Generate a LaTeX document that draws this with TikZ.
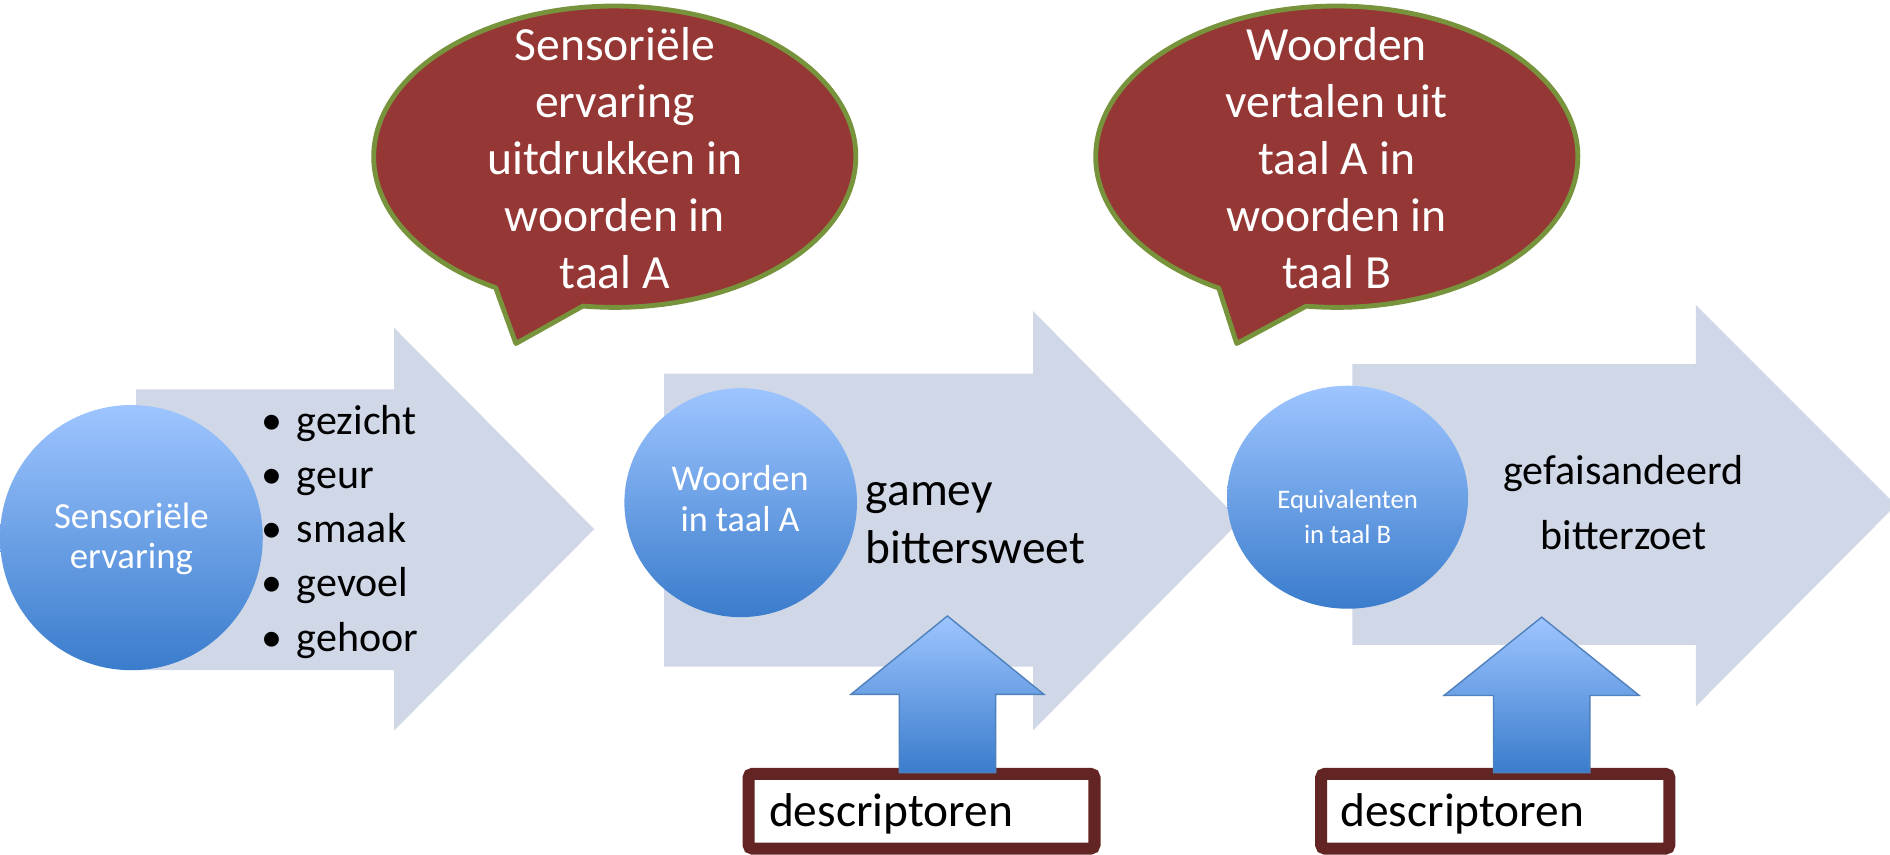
\documentclass[tikz,border=0pt]{standalone}
\usepackage{fontspec}
\setmainfont{Carlito}
\usetikzlibrary{shapes.geometric}
\definecolor{arrowbg}{RGB}{208,216,232}
\definecolor{circtop}{RGB}{158,197,255}
\definecolor{circbot}{RGB}{58,124,204}
\definecolor{bubfill}{RGB}{149,55,53}
\definecolor{bubline}{RGB}{119,147,60}
\definecolor{boxline}{RGB}{99,37,35}
\definecolor{upline}{RGB}{79,129,189}
\newcommand\bul{\makebox[25.2pt][c]{\textbullet}}
\begin{document}
\begin{tikzpicture}[x=0.6pt,y=-0.6pt,
  bigarrow/.style={fill=arrowbg},
  circ/.style={ellipse, inner sep=0pt, top color=circtop, bottom color=circbot, draw=none},
  circtext/.style={text=white, align=center, inner sep=0pt},
  bubble/.style={fill=bubfill, draw=bubline, line width=2.4pt, line join=round},
  bubtext/.style={text=white, align=center, inner sep=0pt, font=\fontsize{23.7}{28.4}\selectfont},
  uparrow/.style={top color=circtop, bottom color=circbot, draw=upline, line width=0.7pt},
  descbox/.style={draw=boxline, line width=6pt, rounded corners=2pt, fill=white, minimum height=37.2pt, align=left, inner ysep=0pt, font=\fontsize{23.6}{28}\selectfont},
  words/.style={inner sep=0pt}
]
\useasboundingbox (0,0) rectangle (1568,709);
\fill[white] (0,0) rectangle (1568,709);

% big background arrows
\path[bigarrow] (113,323) -- (327,323) -- (327,272) -- (493,439) -- (327,606) -- (327,556) -- (113,556) -- cycle;
\path[bigarrow] (551,310) -- (857,310) -- (857,258) -- (1029,432) -- (857,606) -- (857,553) -- (551,553) -- cycle;
\path[bigarrow] (1122,302) -- (1407,302) -- (1407,253) -- (1573,419) -- (1407,586) -- (1407,535) -- (1122,535) -- cycle;

% circles
\node[circ, minimum width=130.8pt, minimum height=132pt] (c1) at (109,446) {};
\node[circ, minimum width=115.8pt, minimum height=114pt] (c2) at (614.5,417) {};
\node[circ, minimum width=120pt, minimum height=111pt] (c3) at (1118,412.5) {};

\node[circtext, font=\fontsize{18.3}{19.8}\selectfont] (t1) at (109,447) {Sensoriële\\ervaring};
\node[circtext, font=\fontsize{18}{20.4}\selectfont] (t2) at (614,414) {Woorden\\in taal A};
\node[circtext, font=\fontsize{13.3}{17.4}\selectfont] (t3) at (1118,429) {Equivalenten\\in taal B};

% texts on arrows
\node[words, anchor=west, align=left, font=\fontsize{20.9}{27}\selectfont] (senses) at (204,441)
  {\bul gezicht\\\bul geur\\\bul smaak\\\bul gevoel\\\bul gehoor};
\node[words, anchor=west, align=left, font=\fontsize{23.6}{28.8}\selectfont] (wa) at (718,434) {gamey\\bittersweet};
\node[words, align=center, font=\fontsize{20.9}{32.4}\selectfont] (wb) at (1347,417) {gefaisandeerd\\bitterzoet};

% speech bubbles
\path[bubble] ([shift={(510,130)}]97.6:200 and 125) arc[start angle=97.6, end angle=-240.4, x radius=200, y radius=125] -- (428,285) -- cycle;
\node[bubtext] (b1) at (510,131) {Sensoriële\\ervaring\\uitdrukken in\\woorden in\\taal A};
\path[bubble] ([shift={(1109,130)}]97.3:200 and 125) arc[start angle=97.3, end angle=-240.7, x radius=200, y radius=125] -- (1026,285) -- cycle;
\node[bubtext] (b2) at (1109,131) {Woorden\\vertalen uit\\taal A in\\woorden in\\taal B};

% descriptor boxes
\node[descbox, text width=151.8pt, inner xsep=10.2pt] (d1) at (764.5,673) {\raisebox{-7.8pt}[0pt][0pt]{descriptoren}};
\node[descbox, text width=154.2pt, inner xsep=9.6pt] (d2) at (1240.5,673) {\raisebox{-7.8pt}[0pt][0pt]{descriptoren}};

% up arrows
\path[uparrow] (786,511) -- (866,576) -- (826,576) -- (826,641) -- (746,641) -- (746,576) -- (706,576) -- cycle;
\path[uparrow] (1279,512) -- (1360,577) -- (1319,577) -- (1319,641) -- (1239,641) -- (1239,577) -- (1198,577) -- cycle;
\end{tikzpicture}
\end{document}
